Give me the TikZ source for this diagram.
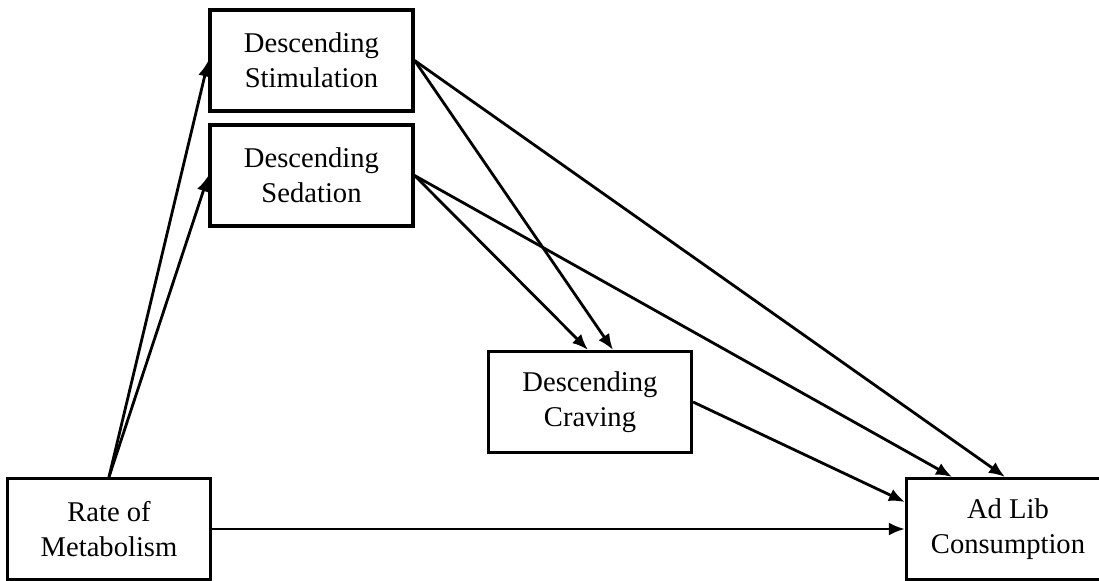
\documentclass[tikz,border=0pt]{standalone}
\usepackage{fontspec}
\setmainfont{Liberation Serif}
\usetikzlibrary{arrows.meta}

\begin{document}
\begin{tikzpicture}[x=0.5pt,y=-0.5pt,
    varbox/.style={draw,line width=1.6pt,rectangle,align=center,
      minimum width=101.5pt,minimum height=50.5pt,inner sep=0pt,
      font=\fontsize{14.3}{17.5}\selectfont},
    path/.style={line width=1.4pt,-{Latex[length=8pt,width=6.5pt]}}]
    \useasboundingbox (0,0) rectangle (1099,580);
    % variables
    \node [varbox] (stim) at (311.5,60.5) {Descending\\Stimulation};
    \node [varbox] (sed) at (311.5,175.5) {Descending\\Sedation};
    \node [varbox] (crav) at (590,402) {Descending\\Craving};
    \node [varbox] (rate) at (109,529) {Rate of\\Metabolism};
    \node [varbox] (adlib) at (1008,529) {Ad Lib\\Consumption};
    % paths
    \draw [path] (rate.north) -- (stim.west);
    \draw [path] (rate.north) -- (sed.west);
    \draw [path] (stim.east) -- ([xshift=11.5pt]crav.north);
    \draw [path] (stim.east) -- ([xshift=-1.5pt]adlib.north);
    \draw [path] (sed.east) -- ([xshift=-1pt]crav.north);
    \draw [path] (sed.east) -- ([xshift=-28pt]adlib.north);
    \draw [path] (crav.east) -- ([yshift=13.5pt]adlib.west);
    \draw [path] (rate.east) -- (adlib.west);
\end{tikzpicture}
\end{document}
